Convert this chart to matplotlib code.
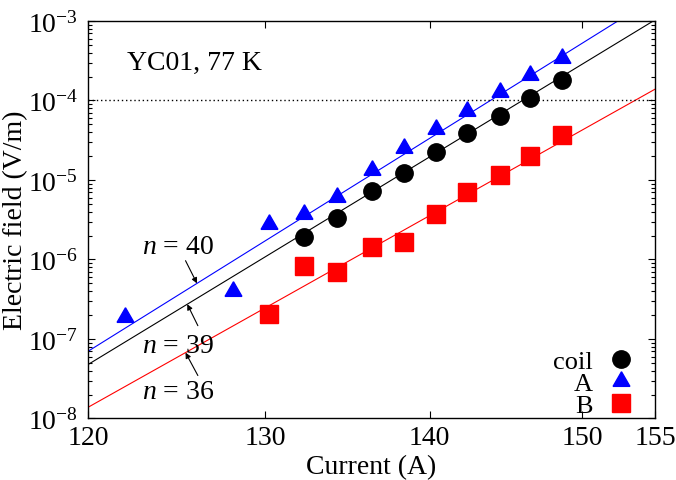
"""
E-I characteristics of coil YC01 at 77 K (log-log) with power-law fits.
"""
import numpy as np
import matplotlib
matplotlib.use("Agg")
import matplotlib.pyplot as plt
from matplotlib.ticker import FixedLocator, FixedFormatter, NullLocator, LogLocator

plt.rcParams["font.family"] = "Liberation Serif"
plt.rcParams["mathtext.fontset"] = "custom"
plt.rcParams["mathtext.rm"] = "Liberation Serif"
plt.rcParams["mathtext.it"] = "Liberation Serif:italic"

# measured points (current in A, electric field in V/m)
coil_I = [132.3, 134.3, 136.4, 138.4, 140.4, 142.4, 144.5, 146.5, 148.6]
coil_E = [1.93e-6, 3.35e-6, 7.3e-6, 1.23e-5, 2.26e-5, 3.92e-5, 6.41e-5, 1.08e-4, 1.82e-4]

A_I = [122.0, 128.1, 130.2, 132.3, 134.3, 136.4, 138.4, 140.4, 142.4, 144.5, 146.5, 148.6]
A_E = [1.91e-7, 4.06e-7, 2.82e-6, 3.76e-6, 6.15e-6, 1.34e-5, 2.54e-5, 4.40e-5,
       7.40e-5, 1.28e-4, 2.10e-4, 3.43e-4]

B_I = [130.2, 132.3, 134.3, 136.4, 138.4, 140.4, 142.4, 144.5, 146.5, 148.6]
B_E = [2.08e-7, 8.36e-7, 7.03e-7, 1.45e-6, 1.67e-6, 3.76e-6, 7.11e-6, 1.16e-5,
       2.01e-5, 3.70e-5]

# power-law fits E = Ec (I/Ic)^n
E_c = 1e-4
fit_n = {"coil": 39, "A": 40, "B": 36}
fit_Ic = {"coil": 146.0, "A": 143.9, "B": 153.6}

x_ticks = [120, 130, 140, 150, 155]


def fit(key, I):
    return E_c * (np.asarray(I) / fit_Ic[key]) ** fit_n[key]


fig = plt.figure(figsize=(6.76, 4.81), dpi=100)
ax = fig.add_axes([0.1302, 0.1279, 0.8387, 0.8264])
ax.set_xscale("log")
ax.set_yscale("log")
ax.set_xlim(120, 155)
ax.set_ylim(1e-8, 1e-3)

I_line = np.geomspace(115, 160, 200)
ax.plot(I_line, fit("A", I_line), color="#0000ff", lw=0.8)
ax.plot(I_line, fit("coil", I_line), color="black", lw=0.8)
ax.plot(I_line, fit("B", I_line), color="#ff0000", lw=0.8)

ax.axhline(E_c, color="black", lw=1.0, linestyle=(0, (1, 2)))

ax.plot(coil_I, coil_E, "o", color="black", ms=12.5, label="coil", zorder=4)
ax.plot(A_I, A_E, marker=(3, 0, 0), ls="none", color="#0000ff", ms=14, label="A", zorder=4)
ax.plot(B_I, B_E, "s", color="#ff0000", ms=12.5, label="B", zorder=4)

# n labels with arrows
arr = dict(arrowstyle="-|>", lw=0.8, color="black", mutation_scale=8,
           shrinkA=0, shrinkB=0)
ax.annotate("", xy=(126.05, fit("A", 126.05)), xytext=(125.4, 9.66e-7), arrowprops=arr)
ax.text(124.97, 1.45e-6, r"$n$ = 40", ha="center", va="center", fontsize=20)
ax.annotate("", xy=(125.5, fit("coil", 125.5)), xytext=(126.1, 1.47e-7), arrowprops=arr)
ax.text(124.97, 8.26e-8, r"$n$ = 39", ha="center", va="center", fontsize=20)
ax.annotate("", xy=(125.4, fit("B", 125.4)), xytext=(126.1, 3.47e-8), arrowprops=arr)
ax.text(124.97, 2.18e-8, r"$n$ = 36", ha="center", va="center", fontsize=20)

ax.text(0.0688, 0.897, "YC01, 77 K", transform=ax.transAxes,
        ha="left", va="center", fontsize=20)

# axes and ticks
ax.xaxis.set_major_locator(FixedLocator(x_ticks))
ax.xaxis.set_major_formatter(FixedFormatter([str(t) for t in x_ticks]))
ax.xaxis.set_minor_locator(NullLocator())
ax.yaxis.set_major_locator(LogLocator(base=10, numticks=10))
ax.yaxis.set_minor_locator(LogLocator(base=10, subs=np.arange(2, 10), numticks=10))
ax.yaxis.set_major_formatter(
    plt.FuncFormatter(lambda v, p: r"$\mathregular{10^{%d}}$" % round(np.log10(v))))
ax.tick_params(which="both", direction="in", top=True, right=True, labelsize=20,
               width=0.8)
ax.tick_params(which="major", length=5, pad=5)
ax.tick_params(axis="y", which="major", pad=7)
ax.tick_params(which="minor", length=3)
for s in ax.spines.values():
    s.set_linewidth(1.0)

ax.set_xlabel("Current (A)", fontsize=20, labelpad=3)
ax.set_ylabel("Electric field (V/m)", fontsize=20, labelpad=0)

ax.legend(loc="lower right", bbox_to_anchor=(0.963, 0.003), markerfirst=False,
          frameon=False, fontsize=19, handlelength=1.0, handletextpad=0.56,
          labelspacing=-0.05, borderaxespad=0, borderpad=0)

fig.savefig("out.png", dpi=100)
